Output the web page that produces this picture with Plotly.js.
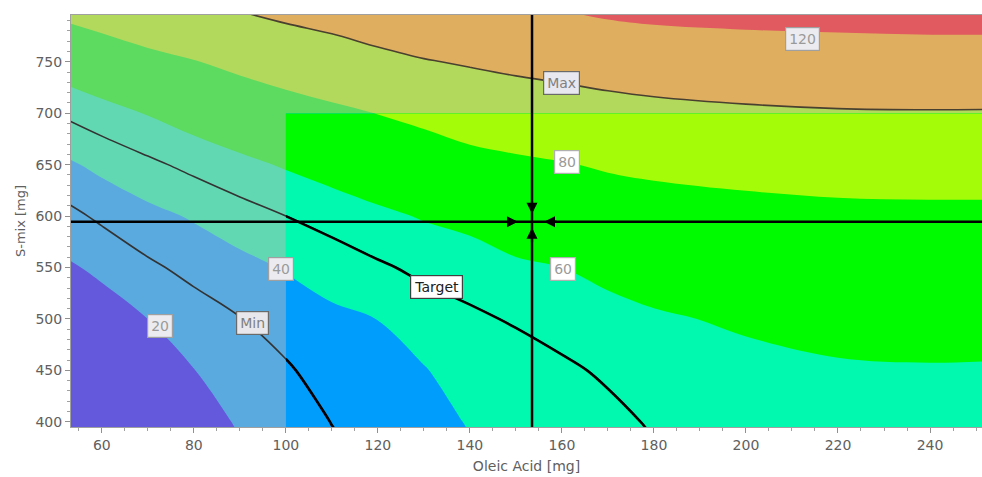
<!DOCTYPE html>
<html>
<head>
<meta charset="utf-8">
<script src="https://cdn.plot.ly/plotly-3.0.1.min.js"></script>
<style>html,body{margin:0;padding:0;background:#fff;}</style>
</head>
<body>
<div id="chart" style="width:982px;height:477px;"></div>
<script>
// Grid of the response surface
const oleicAcid = [50, 60, 70, 80, 90, 100, 110, 120, 130, 140, 150, 160, 170, 180, 200, 220, 240, 260];
const sMix = [380, 400, 450, 500, 550, 600, 650, 700, 750, 800];
const resp380 = [-3, 0.8, 5.6, 12.1, 19.5, 23.8, 29.0, 32.5, 36.0, 39.5, 42.0, 44.7, 47.0, 49.6, 52.4, 53.9, 54.2, 53.8];
const resp400 = [-0.4, 3.2, 8.0, 14.3, 21.3, 25.3, 30.2, 33.4, 36.8, 40.6, 42.7, 45.3, 47.3, 51.1, 52.9, 54.3, 54.6, 54.2];
const resp450 = [5.6, 9.2, 14.0, 19.8, 25.5, 28.8, 34.3, 36.7, 39.4, 44.6, 46.7, 48.2, 51.5, 54.9, 56.9, 58.6, 59.1, 58.7];
const resp500 = [11.6, 15.2, 20.0, 25.2, 29.7, 34.2, 38.0, 40.1, 45.1, 48.8, 50.7, 54.1, 56.5, 58.6, 61.6, 64.3, 65.1, 64.7];
const resp550 = [17.6, 22.0, 28.2, 32.9, 36.8, 40.7, 44.2, 48.6, 52.2, 53.1, 58.1, 60.0, 62.8, 65.3, 68.9, 70.9, 71.5, 71.3];
const resp600 = [25.7, 31.9, 37.0, 41.1, 45.8, 50.0, 54.1, 57.6, 60.9, 64.3, 67.3, 69.8, 71.9, 72.5, 74.5, 76.0, 76.4, 76.4];
const resp650 = [36.9, 42.8, 47.9, 52.7, 57.1, 61.2, 64.8, 68.6, 71.7, 75.2, 77.4, 79.2, 81.5, 83.4, 85.7, 87.2, 87.7, 87.6];
const resp700 = [50.3, 55.8, 60.6, 65.6, 69.9, 73.6, 76.9, 80.3, 83.7, 87.7, 90.0, 92.2, 94.0, 95.6, 97.6, 98.8, 99.1, 98.9];
const resp750 = [65.8, 70.8, 75.5, 79.4, 83.7, 87.7, 91.6, 95.7, 99.1, 101.5, 103.8, 105.5, 107.8, 109.4, 111.3, 112.3, 112.8, 112.7];
const resp800 = [83.0, 87.5, 92.3, 96.6, 100.3, 104.2, 107.1, 110.8, 114.1, 115.9, 118.5, 120.0, 122.7, 124.2, 125.3, 125.9, 126.5, 126.5];

// Contour bands and spec lines
const bandStart = 20, bandEnd = 120, bandStep = 20;
const specNames = ['Min', 'Target', 'Max'];
const specLevels = [30, 50, 100];

// Design space (bright area) and set point
const designXMin = 100;
const designYMax = 700;
const setPointX = 153.5;
const setPointY = 594.5;

// Boxed labels
const labelTexts = ['20', 'Min', '40', 'Target', '60', '80', 'Max', '120'];
const labelX = [72.7, 92.8, 99.0, 132.8, 160.2, 161.1, 159.9, 212.3];
const labelY = [492.7, 495.6, 549.0, 531.5, 548.5, 653.0, 729.8, 772.5];

const paleColors = ['#6458dc', '#5aaadf', '#62d8b2', '#5cdb60', '#b2d95c', '#dfaf5f', '#e05a60'];
const brightColors = ['#5040ff', '#009dfc', '#00f9ae', '#00fa00', '#a5fc08', '#dfaf5f', '#e05a60'];

const z = [resp380, resp400, resp450, resp500, resp550, resp600, resp650, resp700, resp750, resp800];

function scaleOf(cols) {
  return cols.map((c, i) => [i / (cols.length - 1), c]);
}
// sub grid for the design space
const xi = oleicAcid.map((v, i) => i).filter(i => oleicAcid[i] >= designXMin);
const yi = sMix.map((v, i) => i).filter(i => sMix[i] <= designYMax);
const subX = xi.map(i => oleicAcid[i]);
const subY = yi.map(j => sMix[j]);
const subZ = yi.map(j => xi.map(i => z[j][i]));

function fillTrace(xs, ys, zs, cols) {
  return {
    type: 'contour', x: xs, y: ys, z: zs, autocontour: false,
    contours: {start: bandStart, end: bandEnd, size: bandStep, coloring: 'fill', showlines: false},
    colorscale: scaleOf(cols), showscale: false,
    line: {width: 0, smoothing: 1}, hoverinfo: 'skip'
  };
}
function lineTrace(xs, ys, zs, level, color, width) {
  return {
    type: 'contour', x: xs, y: ys, z: zs,
    contours: {type: 'constraint', operation: '=', value: level},
    line: {color: color, width: width, smoothing: 1},
    showscale: false, hoverinfo: 'skip'
  };
}

const traces = [fillTrace(oleicAcid, sMix, z, paleColors), fillTrace(subX, subY, subZ, brightColors)];
specLevels.forEach((lev, k) => {
  traces.push(lineTrace(oleicAcid, sMix, z, lev, k === 2 ? '#4a4030' : '#333333', 1.6));
});
specLevels.forEach((lev, k) => {
  traces.push(lineTrace(subX, subY, subZ, lev, '#000000', 2.6));
});

const labelStyle = {
  '20': {bg: '#ececf0', border: '#a0a0a0', color: '#9a9a9a', size: 14},
  'Min': {bg: '#e8e8ec', border: '#6a6a6a', color: '#808080', size: 14},
  '40': {bg: '#ececf0', border: '#a0a0a0', color: '#9a9a9a', size: 14},
  'Target': {bg: '#ffffff', border: '#404040', color: '#202020', size: 14},
  '60': {bg: '#ffffff', border: '#b0b0b0', color: '#9a9a9a', size: 14},
  '80': {bg: '#ffffff', border: '#b0b0b0', color: '#9a9a9a', size: 14},
  'Max': {bg: '#e8e8f0', border: '#6a6a6a', color: '#808080', size: 14},
  '120': {bg: '#ececf0', border: '#a0a0a0', color: '#9a9a9a', size: 14}
};
const annotations = labelTexts.map((t, i) => {
  const s = labelStyle[t];
  return {
    x: labelX[i], y: labelY[i], xref: 'x', yref: 'y', text: t, showarrow: false,
    bgcolor: s.bg, bordercolor: s.border, borderwidth: 1.2, borderpad: 3,
    font: {family: 'DejaVu Sans', size: s.size, color: s.color}
  };
});
// arrows pointing to the set point
const arrowOffsets = [[0, -22, 8], [0, 22, 6], [-26, 0, 14], [26, 0, 12]];
arrowOffsets.forEach(o => {
  annotations.push({
    x: setPointX, y: setPointY, xref: 'x', yref: 'y', text: '', showarrow: true,
    ax: o[0], ay: o[1], standoff: o[2], arrowhead: 2, arrowsize: 1, arrowwidth: 2.2, arrowcolor: '#000'
  });
});

const tickFont = {family: 'DejaVu Sans', size: 14, color: '#606060'};
const layout = {
  width: 982, height: 477,
  margin: {l: 71, r: 0, t: 15, b: 50},
  paper_bgcolor: '#ffffff', plot_bgcolor: '#ffffff', showlegend: false,
  xaxis: {
    range: [53.3, 251.3], tick0: 0, dtick: 20, ticks: 'outside', ticklen: 5, tickcolor: '#909090',
    tickfont: tickFont, showgrid: false, zeroline: false, showline: true, linecolor: '#a0a0a0', mirror: true,
    minor: {dtick: 5, ticks: 'outside', ticklen: 3, tickcolor: '#a0a0a0', showgrid: false},
    title: {text: 'Oleic Acid [mg]', font: {family: 'DejaVu Sans', size: 14, color: '#606060'}, standoff: 9}
  },
  yaxis: {
    range: [395, 795.4], tick0: 0, dtick: 50, ticks: 'outside', ticklen: 5, tickcolor: '#909090',
    tickfont: tickFont, showgrid: false, zeroline: false, showline: true, linecolor: '#a0a0a0', mirror: true,
    minor: {dtick: 10, ticks: 'outside', ticklen: 3, tickcolor: '#a0a0a0', showgrid: false},
    title: {text: 'S-mix [mg]', font: {family: 'DejaVu Sans', size: 13, color: '#606060'}, standoff: 6}
  },
  shapes: [
    {type: 'line', xref: 'x', yref: 'paper', x0: setPointX, x1: setPointX, y0: 0, y1: 1, line: {color: '#000', width: 2.5}},
    {type: 'line', xref: 'paper', yref: 'y', x0: 0, x1: 1, y0: setPointY, y1: setPointY, line: {color: '#000', width: 2.5}}
  ],
  annotations: annotations
};

Plotly.newPlot('chart', traces, layout, {displayModeBar: false, staticPlot: true});
</script>
</body>
</html>
